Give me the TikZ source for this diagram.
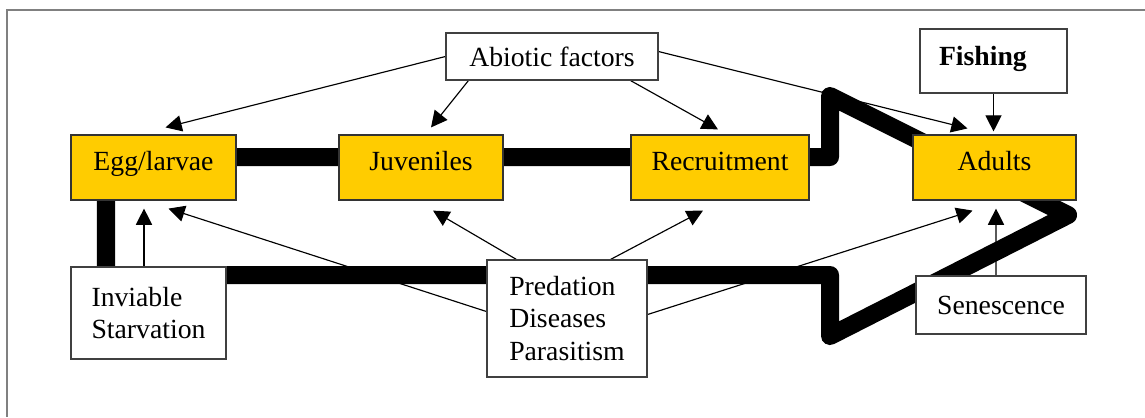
\documentclass[tikz,border=0pt]{standalone}
\usepackage{fontspec}
\setmainfont{Liberation Serif}
\usepackage{tikz}
\usetikzlibrary{arrows.meta,calc,backgrounds}
\definecolor{stagegold}{RGB}{255,204,0}
\newcommand{\pxu}{0.433pt}

\begin{document}
\begin{tikzpicture}[x=0.433pt,y=-0.433pt,
font=\fontsize{12}{13.9}\selectfont,
stage/.style={draw=black!80,fill=stagegold,line width=0.5pt,inner sep=0pt,text height=7.8pt,text depth=5.6pt,minimum height=65*\pxu},
factor/.style={draw=black!75,fill=white,line width=0.5pt,inner sep=0pt,align=left},
effect/.style={line width=0.5pt,-{Triangle[length=7pt,width=7pt]}},
cycle/.style={line width=7.8pt,line join=round}]

\useasboundingbox (0,0) rectangle (1145,417);
\draw[gray,line width=0.6pt] (1145,10) -- (7,10) -- (7,417);

\node[stage,minimum width=165*\pxu] (egg) at (153.5,167.5) {Egg/larvae};
\node[stage,minimum width=164*\pxu] (juv) at (421,167.5) {Juveniles};
\node[stage,minimum width=178*\pxu] (rec) at (720,167.5) {Recruitment};
\node[stage,minimum width=163*\pxu] (adu) at (994.5,167.5) {Adults};

\node[factor,minimum width=212*\pxu,minimum height=47*\pxu] (abio) at (552,56.5) {Abiotic factors};
\node[factor,minimum width=147*\pxu,minimum height=64*\pxu,text width=109*\pxu,inner xsep=19*\pxu,
  text height=7.8pt,text depth=4.3pt,font={\fontsize{12}{13.9}\selectfont\bfseries}] (fish) at (993.5,61) {Fishing};
\node[factor,minimum width=155*\pxu,minimum height=92*\pxu] (inv) at (148.5,313) {Inviable\\Starvation};
\node[factor,minimum width=160*\pxu,minimum height=117*\pxu] (pred) at (567,318.5) {Predation\\Diseases\\Parasitism};
\node[factor,minimum width=170*\pxu,minimum height=58*\pxu] (sen) at (1001,305) {Senescence};

\begin{scope}[on background layer]
\draw[effect] (abio.west) -- ($(egg.north)+(12,-7)$);
\draw[effect] ($(abio.south west)+(23,0)$) -- ($(juv.north)+(10,-7)$);
\draw[effect] ($(abio.south east)+(-28,0)$) -- ($(rec.north)+(-2,-5)$);
\draw[effect] ($(abio.east)+(0,-5)$) -- ($(adu.north)+(-27,-6)$);
\draw[effect] (fish.south) -- ($(fish.south |- adu.north)+(0,-3)$);
\draw[effect] ($(inv.north)+(-4.5,0)$) -- ($(egg.south)+(-9.5,8)$);
\draw[effect] ($(pred.west)+(0,-7)$) -- ($(egg.south)+(15,8)$);
\draw[effect] ($(pred.north west)+(30,0)$) -- ($(juv.south)+(12,10)$);
\draw[effect] ($(pred.north east)+(-37,0)$) -- ($(rec.south)+(-17,10)$);
\draw[effect] ($(pred.east)+(0,-4)$) -- ($(adu.south)+(-22,10)$);
\draw[effect] ($(sen.north)+(-5,0)$) -- ($(adu.south)+(1.5,8)$);

\coordinate (t1) at (830,157);
\coordinate (t2) at (830,96);
\coordinate (t3) at (1068,215);
\coordinate (t4) at (830,336);
\coordinate (t5) at (830,275);
\coordinate (t6) at (106,185);
\draw[cycle] (egg.center |- t1) -- (t1) -- (t2) -- (t3) -- (t4) -- (t5) -- (t5 -| t6) -- (t6);
\end{scope}

\end{tikzpicture}
\end{document}
